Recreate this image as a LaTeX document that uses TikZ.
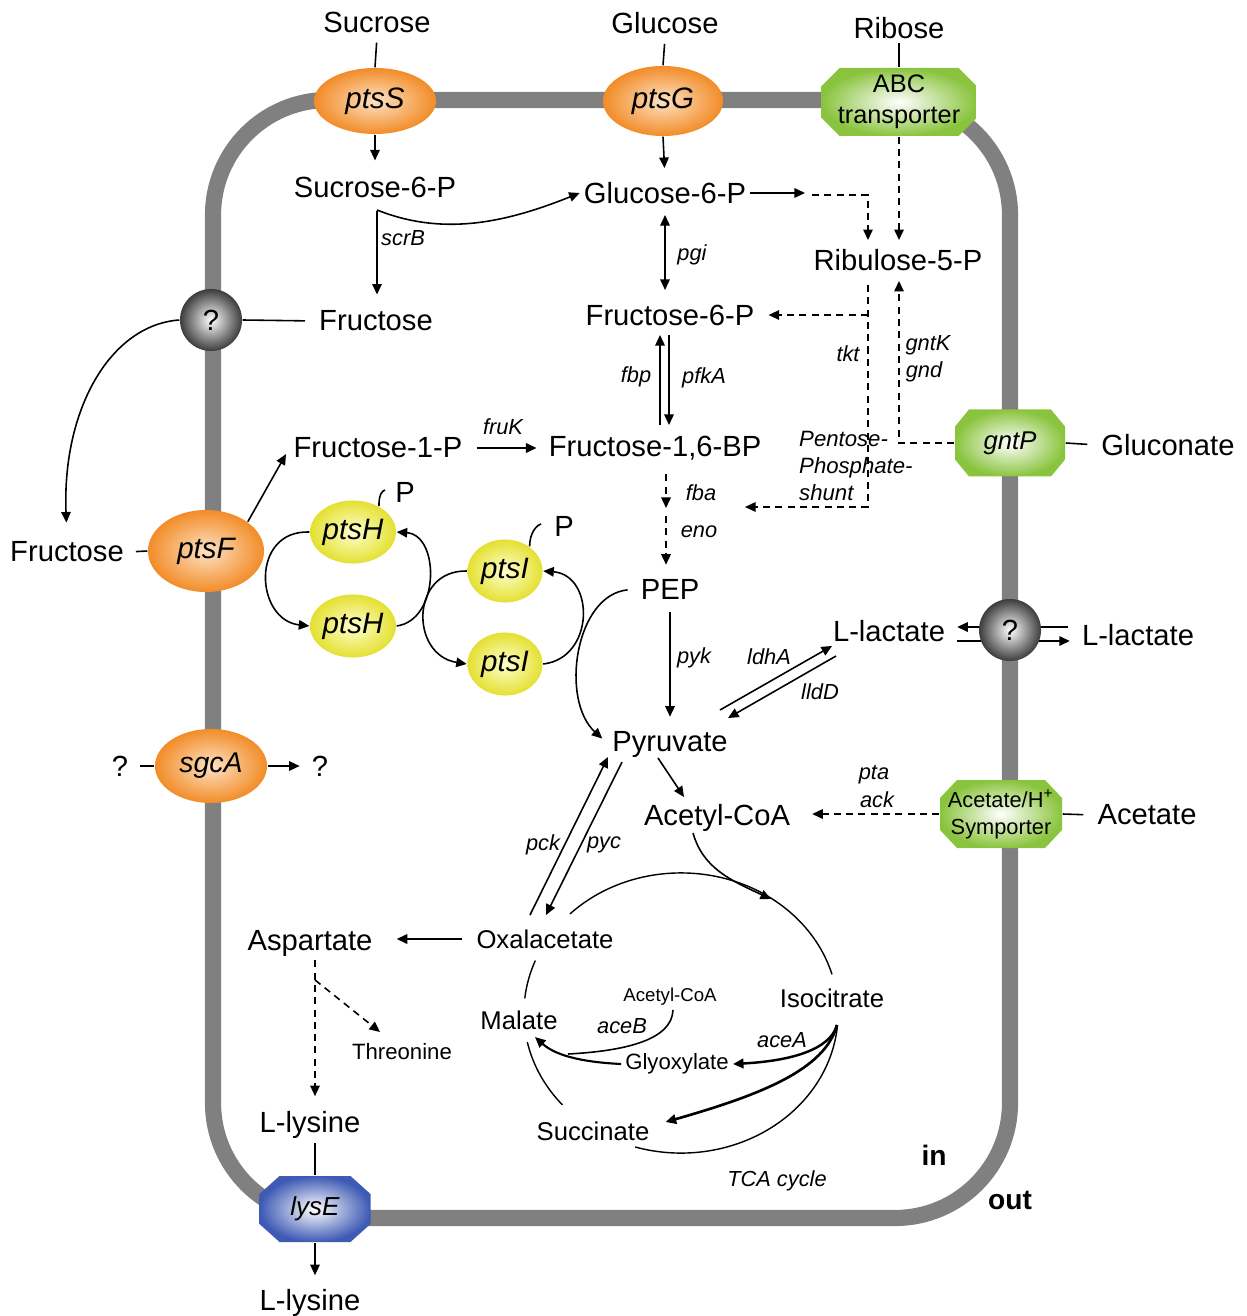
\documentclass[tikz,border=0pt]{standalone}
\usepackage{fontspec}
\setmainfont{Liberation Sans}
\usetikzlibrary{arrows.meta,shapes.misc,shapes.geometric,calc}
\definecolor{membG}{RGB}{128,128,128}
\definecolor{orOut}{RGB}{242,140,40}
\definecolor{orIn}{RGB}{253,226,196}
\definecolor{yeOut}{RGB}{228,224,50}
\definecolor{yeIn}{RGB}{255,255,205}
\definecolor{grOut}{RGB}{138,196,62}
\definecolor{blOut}{RGB}{62,90,180}
\definecolor{qOut}{RGB}{60,60,60}
% x y w h chamferx chamfery colour
\newcommand{\octpath}[7]{%
 \shade[inner color=white, outer color=#7] ({#1-#3/2+#5},{#2-#4/2}) -- ({#1+#3/2-#5},{#2-#4/2}) -- ({#1+#3/2},{#2-#4/2+#6}) -- ({#1+#3/2},{#2+#4/2-#6}) -- ({#1+#3/2-#5},{#2+#4/2}) -- ({#1-#3/2+#5},{#2+#4/2}) -- ({#1-#3/2},{#2+#4/2-#6}) -- ({#1-#3/2},{#2-#4/2+#6}) -- cycle;}
\tikzset{
 lbl/.style={inner sep=1pt, font=\fontsize{8.3}{10}\selectfont},
 lblm/.style={inner sep=1pt, font=\fontsize{7.3}{9}\selectfont},
 lbls/.style={inner sep=1pt, font=\fontsize{6.3}{7.6}\selectfont},
 lblt/.style={inner sep=1pt, font=\fontsize{5.3}{6.5}\selectfont},
 enz/.style={inner sep=1pt, font=\fontsize{6.2}{7.6}\selectfont\itshape},
 bld/.style={inner sep=1pt, font=\fontsize{8}{10}\selectfont\bfseries},
 orE/.style={ellipse, inner sep=0pt, shade, inner color=orIn, outer color=orOut, font=\fontsize{8.4}{10}\selectfont\itshape},
 yeE/.style={ellipse, inner sep=0pt, shade, inner color=yeIn, outer color=yeOut, minimum width=0.75cm, minimum height=0.63cm, font=\fontsize{8.4}{10}\selectfont\itshape},
 qball/.style={circle, inner sep=0pt, minimum size=0.62cm, shade, inner color=white, outer color=qOut, font=\fontsize{8.3}{10}\selectfont},
 octo/.style={rectangle, inner sep=0pt},
 ln/.style={line width=0.45pt},
 arr/.style={line width=0.45pt, -{Triangle[length=3pt,width=2.7pt]}},
 dbl/.style={line width=0.45pt, {Triangle[length=3pt,width=2.7pt]}-{Triangle[length=3pt,width=2.7pt]}},
 dsh/.style={dash pattern=on 2pt off 1.5pt}
}
\begin{document}
\begin{tikzpicture}[x=0.01cm,y=-0.01cm]
\useasboundingbox (0,0) rectangle (1246,1316);
% membrane
\draw[membG, line width=4.6pt, rounded corners=1.15cm] (213,100) rectangle (1010,1218);

% octagon bodies
\octpath{899}{102}{155}{68}{18}{18}{grOut}
\octpath{1010}{443}{110}{67}{14}{17}{grOut}
\octpath{1001}{814}{122}{68}{17}{18}{grOut}
\octpath{315}{1209}{111}{66}{20}{18}{blOut}

% substrates outside / top
\node[lbl] (Suc) at (377,22) {Sucrose};
\node[lbl] (Glc) at (665,23) {Glucose};
\node[lbl] (Rib) at (899,28) {Ribose};
\node[orE, minimum width=1.22cm, minimum height=0.66cm] (ptsS) at (375,101) {ptsS};
\node[orE, minimum width=1.2cm, minimum height=0.7cm] (ptsG) at (663,101) {ptsG};
\node[octo, minimum width=1.55cm, minimum height=0.68cm, align=center, font=\fontsize{7.2}{8.8}\selectfont] (ABC) at (899,102) {\rule{0pt}{1.2ex}ABC\\transporter};

\node[lbl] (S6P) at (375,187) {Sucrose-6-P};
\node[lbl] (G6P) at (665,193) {Glucose-6-P};
\node[lbl] (Ru5P) at (898,260) {Ribulose-5-P};
\node[lbl] (Fru) at (376,321) {Fructose};
\node[lbl] (F6P) at (670,315) {Fructose-6-P};
\node[qball] (q1) at (211,320) {?};
\node[lbl] (FruO) at (67,552) {Fructose};
\node[orE, minimum width=1.16cm, minimum height=0.82cm] (ptsF) at (206,551) {ptsF};
\node[lbl] (F1P) at (378,448) {Fructose-1-P};
\node[lbl] (F16) at (655,448) {Fructose-1,6-BP};
\node[octo, minimum width=1.1cm, minimum height=0.67cm, font=\fontsize{7.3}{9}\selectfont\itshape] (gntP) at (1010,443) {gntP};
\node[lbl] (Gln) at (1168,445) {Gluconate};
\node[enz, align=left, anchor=west, font=\fontsize{6.3}{7.6}\selectfont\itshape] (PPS) at (795,466) {Pentose-\\Phosphate-\\shunt};

\node[yeE] (H1) at (353,532) {ptsH};
\node[yeE] (H2) at (353,626) {ptsH};
\node[yeE] (I1) at (505,571) {ptsI};
\node[yeE] (I2) at (505,664) {ptsI};
\node[lbl] (P1) at (405,492) {P};
\node[lbl] (P2) at (564,526) {P};

\node[lbl] (PEP) at (670,589) {PEP};
\node[lbl] (Llac) at (889,631) {L-lactate};
\node[lbl] (LlacO) at (1138,635) {L-lactate};
\node[lbl] (Pyr) at (670,744) {Pyruvate};
\node[lbl] (AcCoA) at (717,818) {Acetyl-CoA};
\node[octo, minimum width=1.22cm, minimum height=0.68cm, align=center, font=\fontsize{6.2}{7.7}\selectfont] (Sym) at (1001,814) {Acetate/H\textsuperscript{+}\\Symporter};
\node[lbl] (Ace) at (1147,815) {Acetate};
\node[orE, minimum width=1.12cm, minimum height=0.74cm, font=\fontsize{8.1}{10}\selectfont\itshape] (sgcA) at (211,766) {sgcA};
\node[lbl] (qL) at (120,766) {?};
\node[lbl] (qR) at (320,766) {?};

\node[lbl] (Asp) at (310,943) {Aspartate};
\node[lblm] (OAA) at (545,939) {Oxalacetate};
\node[lbls] (Thr) at (402,1052) {Threonine};
\node[lblm] (Mal) at (519,1020) {Malate};
\node[lblm] (Iso) at (832,998) {Isocitrate};
\node[lbls] (Gly) at (677,1064) {Glyoxylate};
\node[lblm] (Suc2) at (593,1131) {Succinate};
\node[lblt] (AcCoA2) at (670,997) {Acetyl-CoA};
\node[lbl] (Lys) at (310,1125) {L-lysine};
\node[octo, minimum width=1.11cm, minimum height=0.66cm, font=\fontsize{7.4}{9}\selectfont\itshape] (lysE) at (315,1209) {lysE};
\node[lbl] (LysO) at (310,1303) {L-lysine};
\node[bld] (inL) at (934,1155) {in};
\node[bld] (outL) at (1010,1200) {out};
\node[enz] (TCA) at (777,1181) {TCA cycle};

% enzyme labels
\node[enz] at (403,238) {scrB};
\node[enz] at (692,255) {pgi};
\node[enz] at (636,377) {fbp};
\node[enz] at (704,378) {pfkA};
\node[enz] at (848,354) {tkt};
\node[enz] at (928,345) {gntK};
\node[enz] at (924,372) {gnd};
\node[enz] at (503,427) {fruK};
\node[enz] at (701,493) {fba};
\node[enz] at (699,532) {eno};
\node[enz] at (694,658) {pyk};
\node[enz] at (769,657) {ldhA};
\node[enz] at (820,692) {lldD};
\node[enz] at (874,775) {pta};
\node[enz] at (877,800) {ack};
\node[enz] at (543,845) {pck};
\node[enz] at (604,845) {pyc};
\node[enz] at (622,1026) {aceB};
\node[enz] at (782,1040) {aceA};

% membrane links
\draw[ln, shorten <=0.06cm] (Suc.south) -- (ptsS.north);
\draw[ln, shorten <=0.06cm] (Glc.south) -- (ptsG.north);
\draw[ln] (Rib.south) -- (ABC.north);
\draw[arr, shorten >=0.12cm] (ptsS.south) -- (S6P.north);
\draw[arr, shorten >=0.1cm] (ptsG.south) -- (G6P.north);

% glucose-6-P to ribulose
\coordinate (g6pR) at (805,193);
\draw[arr] (G6P.east) -- (g6pR);
\draw[arr, dsh, shorten >=0.05cm] ($(g6pR)+(7,2)$) -| ([xshift=-0.3cm]Ru5P.north);
\draw[arr, dsh, shorten >=0.05cm] (ABC.south) -- (ABC.south |- Ru5P.north);

% sucrose branch
\draw[arr, shorten <=0.09cm, shorten >=0.12cm] ($(S6P.south)+(2,0)$) -- ($(Fru.north)+(1,0)$);
\draw[arr] ($(S6P)+(2,23)$) .. controls (440,235) and (500,225) .. (G6P.west);

% glycolysis upper
\draw[dbl] ($(G6P)+(0,22)$) -- ($(F6P)+(-5,-25)$);
\draw[arr] ($(F16)+(5,-23)$) -- ($(F6P)+(-10,20)$);
\draw[arr] ($(F6P)+(-1,20)$) -- ($(F16)+(14,-23)$);

% pentose phosphate
\coordinate (pppEnd) at (745,507);
\coordinate (tktJ) at (868,315);
\draw[arr, dsh, shorten <=0.1cm] ([xshift=-0.3cm]Ru5P.south) |- (pppEnd);
\draw[arr, dsh, shorten >=0.1cm] (tktJ) -- (F6P.east);
\draw[arr, dsh, shorten >=0.06cm] (gntP.west) -| ([xshift=0.01cm]Ru5P.south);
\draw[ln, shorten >=0.1cm] (gntP.east) -- (Gln.west);

% fba / eno
\coordinate (fbaM) at (666,508);
\draw[arr, dsh, shorten <=0.1cm] (F16.south -| fbaM) -- (fbaM);
\draw[arr, dsh, shorten >=0.1cm] ($(fbaM)+(0,8)$) -- (fbaM |- PEP.north);

% fructose uptake
\draw[ln, shorten >=0.1cm] (q1.east) -- (Fru.west);
\draw[arr, shorten >=0.15cm] (q1.west) .. controls (110,325) and (62,410) .. (FruO.north);
\draw[ln, shorten <=0.08cm] (FruO.east) -- (ptsF.west);
\draw[arr, shorten >=0.07cm] (ptsF.35) -- (F1P.west);
\draw[arr, shorten <=0.1cm, shorten >=0.08cm] (F1P.east) -- (F16.west);

% PTS cycles
\draw[arr] (H1.west) .. controls (250,530) and (255,620) .. (H2.west);
\draw[arr] (H2.east) .. controls (440,620) and (440,535) .. (H1.east);
\draw[arr] (I1.west) .. controls (410,570) and (410,655) .. (I2.west);
\draw[arr] (I2.east) .. controls (595,658) and (595,575) .. (I1.east);
\draw[ln] (H1.45) .. controls ($(H1.45)+(0,-12)$) and ($(P1.west)+(-9,-1)$) .. ($(P1.west)+(-6,-2)$);
\draw[ln] (I1.45) .. controls ($(I1.45)+(0,-14)$) and ($(P2.west)+(-13,-1)$) .. ($(P2.west)+(-9,-2)$);

% PEP / pyruvate
\draw[arr, shorten <=0.09cm, shorten >=0.08cm] (PEP.west) .. controls (575,595) and (560,700) .. (Pyr.west);
\draw[arr, shorten <=0.09cm, shorten >=0.1cm] (PEP.south) -- (Pyr.north);
\draw[arr] ($(Pyr)+(50,-34)$) -- ($(Llac)+(-57,15)$);
\draw[arr] ($(Llac)+(-53,25)$) -- ($(Pyr)+(58,-26)$);

% lactate transport
\draw[arr] ($(LlacO.west)+(-10,-8)$) -- ($(Llac.east)+(8,-4)$);
\draw[arr] ($(Llac.east)+(8,10)$) -- ($(LlacO.west)+(-8,6)$);
\node[qball] (q2) at (1010,630) {?};

% acetyl-CoA
\draw[arr] ($(Pyr)+(-12,14)$) -- ($(AcCoA)+(-33,-21)$);
\draw[arr, dsh, shorten >=0.18cm] (Sym.west) -- (Sym.west -| AcCoA.east);
\draw[ln, shorten >=0.1cm] (Sym.east) -- (Ace.west);

% pck / pyc
\draw[arr] ($(OAA)+(-15,-24)$) -- ($(Pyr)+(-62,13)$);
\draw[arr] ($(Pyr)+(-48,18)$) -- ($(OAA)+(1,-24)$);

% aspartate / lysine
\draw[arr, shorten <=0.1cm, shorten >=0.2cm] (OAA.west) -- (OAA.west -| Asp.east);
\coordinate (aspJ) at (315,980);
\draw[arr, dsh, shorten >=0.11cm] ($(Asp.south)+(5,0)$) -- ($(Lys.north)+(5,0)$);
\draw[arr, dsh] (aspJ) -- ($(Thr)+(-22,-20)$);
\draw[ln] ($(Lys.south)+(5,0)$) -- (lysE.north);
\draw[arr, shorten >=0.1cm] (lysE.south) -- ($(LysO.north)+(5,0)$);

% sgcA
\draw[ln, shorten <=0.08cm] (qL.east) -- (sgcA.west);
\draw[arr, shorten >=0.08cm] (sgcA.east) -- (qR.west);

% TCA cycle
\coordinate (tcaC) at (681,1013);
\draw[line width=0.4pt] (tcaC) ++(135:1.57cm and 1.40cm) arc[start angle=135, end angle=16, x radius=1.57cm, y radius=1.40cm];
\draw[line width=0.4pt] (tcaC) ++(-5:1.57cm and 1.40cm) arc[start angle=-5, end angle=-107, x radius=1.57cm, y radius=1.40cm];
\draw[line width=0.4pt] (tcaC) ++(221:1.57cm and 1.40cm) arc[start angle=221, end angle=192, x radius=1.57cm, y radius=1.40cm];
\draw[line width=0.4pt] (tcaC) ++(174:1.57cm and 1.40cm) arc[start angle=174, end angle=158, x radius=1.57cm, y radius=1.40cm];
\coordinate (tcaIn) at (771,899);
\draw[arr] ($(AcCoA)+(-24,15)$) .. controls (703,868) and (730,880) .. (tcaIn);
\draw[arr, line width=0.7pt] ($(Iso)+(5,27)$) .. controls (830,1050) and (790,1061) .. (Gly.east);
\draw[arr, line width=0.75pt] ($(Iso)+(5,27)$) .. controls (825,1070) and (760,1095) .. ($(Suc2.east)+(12,-9)$);
\draw[arr, line width=0.6pt] (Gly.west) .. controls (580,1062) and (555,1055) .. ($(Mal)+(16,17)$);
\coordinate (aceBJ) at (568,1054);
\draw[ln] ($(AcCoA2.south)+(3,0)$) .. controls (672,1040) and (625,1051) .. (aceBJ);
\end{tikzpicture}
\end{document}
